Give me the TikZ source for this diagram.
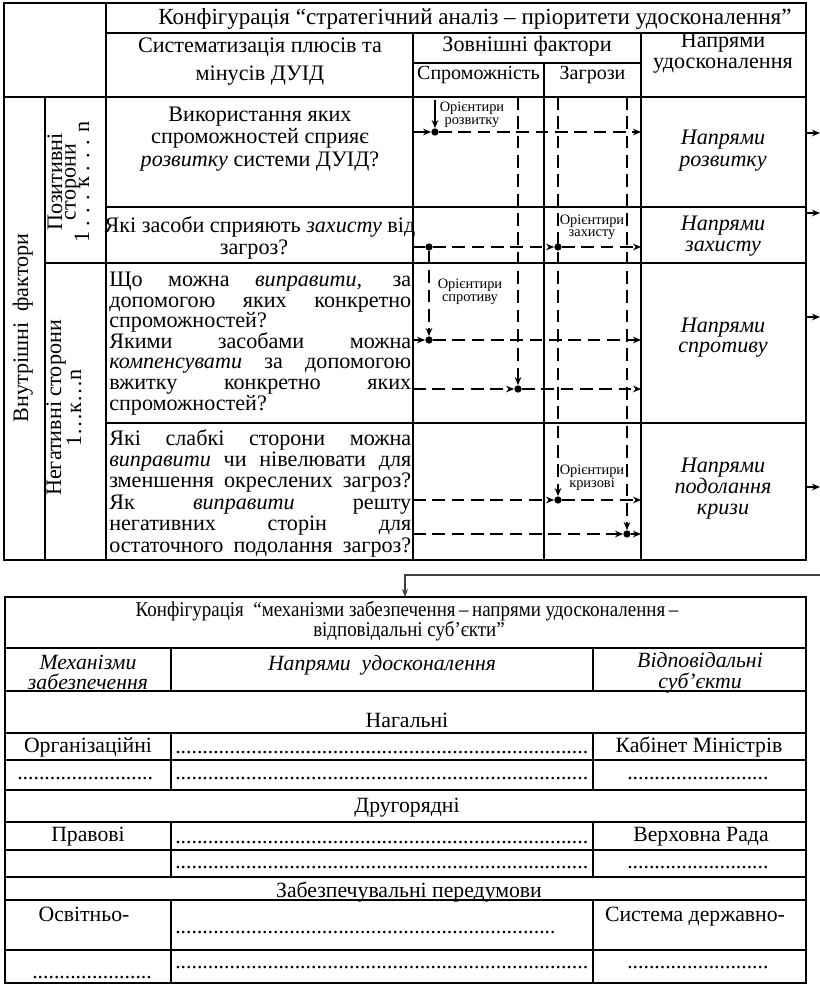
\documentclass[tikz,border=0pt]{standalone}
\usepackage{fontspec}
\setmainfont{Liberation Serif}
\newfontfamily\condfont[FakeStretch=0.9]{Liberation Serif}
\usetikzlibrary{arrows.meta}
\newcommand\dotrow[1]{\makebox[#1]{\leaders\hbox to 0.25em{\hss.\hss}\hfill}}
\newcommand\jline[1]{\makebox[226.5pt][s]{#1}}
\begin{document}
\begin{tikzpicture}[x=0.75pt,y=-0.75pt,
  grid/.style={line width=0.9pt},
  sepline/.style={line width=1.9pt},
  dline/.style={line width=1.3pt,dash pattern=on 9.5pt off 5pt},
  sline/.style={line width=1.3pt},
  tip/.style={-{Stealth[length=6pt,width=5pt]}},
  jdot/.style={circle,fill,inner sep=0pt,minimum size=5.5pt},
  txt/.style={font=\fontsize{16.6}{19}\selectfont,inner sep=0pt,anchor=base},
  htxt/.style={font=\fontsize{17.3}{19}\selectfont,inner sep=0pt,anchor=base},
  itxt/.style={font=\fontsize{16.6}{19}\selectfont\itshape,inner sep=0pt,anchor=base},
  stxt/.style={font=\fontsize{15}{17}\selectfont,inner sep=0pt,anchor=base},
  btxt/.style={font=\fontsize{16.3}{19}\selectfont,inner sep=0pt,anchor=base},
  bitxt/.style={font=\fontsize{16.3}{19}\selectfont\itshape,inner sep=0pt,anchor=base},
  lbl/.style={font=\fontsize{10.8}{12}\selectfont,inner sep=0pt,anchor=base},
  ttl/.style={font=\condfont\fontsize{15.8}{18}\selectfont,inner sep=0pt,anchor=base},
  rot/.style={font=\fontsize{16.6}{19}\selectfont,inner sep=0pt,rotate=90,anchor=base},
  conn/.style={line width=0.8pt,draw=black!75}
]
\fill[white] (0,0) rectangle (820,984);
\useasboundingbox (0,0) rectangle (820,984);

% ---------------- top table grid ----------------
\draw[grid] (4,3) rectangle (806,560);
\draw[grid] (106,33) -- (806,33);
\draw[grid] (413,63) -- (641,63);
\draw[grid] (4,97) -- (806,97);
\draw[grid] (106,207) -- (806,207);
\draw[grid] (45,263) -- (806,263);
\draw[grid] (106,423) -- (806,423);
\draw[grid] (45,97) -- (45,560);
\draw[grid] (106,3) -- (106,560);
\draw[grid] (413,33) -- (413,560);
\draw[grid] (544,63) -- (544,97);
\draw[sepline] (544,97) -- (544,560);
\draw[grid] (641,33) -- (641,560);

% header texts
\node[htxt] (t1) at (475,25) {Конфігурація “стратегічний аналіз – пріоритети удосконалення”};
\node[txt] (h1a) at (260,53) {Систематизація плюсів та};
\node[txt] (h1b) at (260,81) {мінусів ДУІД};
\node[txt] (h2) at (527,52) {Зовнішні фактори};
\node[stxt] (h2a) at (478.5,80) {Спроможність};
\node[stxt] (h2b) at (592.5,80) {Загрози};
\node[txt] (h3a) at (723,48) {Напрями};
\node[txt] (h3b) at (723,69) {удосконалення};

% rotated texts
\node[rot] (vf) at (28,328) {Внутрішні\ \ фактори};
\node[rot] (p1) at (62,182) {Позитивні};
\node[rot] (p2) at (75.5,182) {сторони};
\node[rot] (p3) at (89,182) {1 . . . к . . . n};
\node[rot] (n1) at (61,408) {Негативні сторони};
\node[rot] (n2) at (81,408) {1…к…n};

% row 1
\node[txt] (q1a) at (260,121.5) {Використання яких};
\node[txt] (q1b) at (260,144) {спроможностей сприяє};
\node[txt] (q1c) at (260,167) {\textit{розвитку} системи ДУІД?};
% row 2
\node[txt] (q2a) at (260,233) {Які засоби сприяють \textit{захисту} від};
\node[txt] (q2b) at (254,254) {загроз?};
% row 3
\node[txt,anchor=base west] (q3a) at (109,286.5) {\jline{Що можна \textit{виправити,} за}};
\node[txt,anchor=base west] (q3b) at (109,307.1) {\jline{допомогою яких конкретно}};
\node[txt,anchor=base west] (q3c) at (109,327.7) {спроможностей?};
\node[txt,anchor=base west] (q3d) at (109,348.3) {\jline{Якими засобами можна}};
\node[txt,anchor=base west] (q3e) at (109,368.9) {\jline{\textit{компенсувати} за допомогою}};
\node[txt,anchor=base west] (q3f) at (109,389.5) {\jline{вжитку конкретно яких}};
\node[txt,anchor=base west] (q3g) at (109,410.1) {спроможностей?};
% row 4
\node[txt,anchor=base west] (q4a) at (109,445) {\jline{Які слабкі сторони можна}};
\node[txt,anchor=base west] (q4b) at (109,466.4) {\jline{\textit{виправити} чи нівелювати для}};
\node[txt,anchor=base west] (q4c) at (109,487.8) {\jline{зменшення окреслених загроз?}};
\node[txt,anchor=base west] (q4d) at (109,509.2) {\jline{Як \textit{виправити} решту}};
\node[txt,anchor=base west] (q4e) at (109,530.6) {\jline{негативних сторін для}};
\node[txt,anchor=base west] (q4f) at (109,552) {\jline{остаточного подолання загроз?}};

% right column
\node[itxt] (r1a) at (723,145) {Напрями};
\node[itxt] (r1b) at (723,167) {розвитку};
\node[itxt] (r2a) at (723,230) {Напрями};
\node[itxt] (r2b) at (723,251) {захисту};
\node[itxt] (r3a) at (723,332) {Напрями};
\node[itxt] (r3b) at (723,352) {спротиву};
\node[itxt] (r4a) at (723,472) {Напрями};
\node[itxt] (r4b) at (723,493) {подолання};
\node[itxt] (r4c) at (723,514) {кризи};

% small labels
\node[lbl] (o1a) at (472,112) {Орієнтири};
\node[lbl] (o1b) at (472,125) {розвитку};
\node[lbl] (o2a) at (592,224) {Орієнтири};
\node[lbl] (o2b) at (592,237) {захисту};
\node[lbl] (o3a) at (470,288) {Орієнтири};
\node[lbl] (o3b) at (470,301) {спротиву};
\node[lbl] (o4a) at (592,474) {Орієнтири};
\node[lbl] (o4b) at (592,487) {кризові};

% dots
\node[jdot] (D1) at (435,132) {};
\node[jdot] (D2a) at (429,247) {};
\node[jdot] (D2b) at (558,247) {};
\node[jdot] (D3) at (429,340) {};
\node[jdot] (D4) at (518,389) {};
\node[jdot] (D6) at (558,500) {};
\node[jdot] (D7) at (627,534) {};

% coordinates
\coordinate (T1) at (435,100);
\coordinate (T2) at (518,97);
\coordinate (T3) at (558,97);
\coordinate (T4) at (627,97);
\coordinate (L1) at (413,132);
\coordinate (L2) at (413,247);
\coordinate (L3) at (413,340);
\coordinate (L4) at (413,389);
\coordinate (L5) at (413,500);
\coordinate (L6) at (413,534);
\coordinate (R1) at (641,132);
\coordinate (R2) at (641,247);
\coordinate (R3) at (641,340);
\coordinate (R4) at (641,389);
\coordinate (R5) at (641,500);
\coordinate (R6) at (641,534);

% verticals
\draw[sline,tip] (T1) -- (D1);
\draw[dline,tip] (T2) -- (D4);
\draw[dline,tip] (T3) -- (D6);
\draw[dline,tip] (T4) -- (D7);
\draw[dline,tip] (D2a) -- (D3);
% horizontals
\draw[sline,tip] (L1) -- (D1);
\draw[dline,tip] (D1) -- (R1);
\draw[sline] (L2) -- (D2a);
\draw[dline,tip] (D2a) -- (D2b);
\draw[dline,tip] (D2b) -- (R2);
\draw[sline,tip] (L3) -- (D3);
\draw[dline,tip] (D3) -- (R3);
\draw[dline,tip] (L4) -- (D4);
\draw[dline,tip] (D4) -- (R4);
\draw[dline,tip] (L5) -- (D6);
\draw[dline,tip] (D6) -- (R5);
\draw[dline,tip] (L6) -- (D7);
\draw[sline,tip] (D7) -- (R6);

% outgoing arrows
\coordinate (E1a) at (806,133); \coordinate (E1b) at (820,133);
\coordinate (E2a) at (806,213); \coordinate (E2b) at (820,213);
\coordinate (E3a) at (806,317); \coordinate (E3b) at (820,317);
\coordinate (E4a) at (806,487); \coordinate (E4b) at (820,487);
\draw[sline,tip] (E1a) -- (E1b);
\draw[sline,tip] (E2a) -- (E2b);
\draw[sline,tip] (E3a) -- (E3b);
\draw[sline,tip] (E4a) -- (E4b);

% ---------------- connector ----------------
\coordinate (cR) at (820,575);
\coordinate (cT) at (405,597);
\draw[conn,-{Stealth[length=6pt,width=4.5pt]}] (cR) -- (405,575) -- (cT);

% ---------------- bottom table grid ----------------
\draw[grid] (5,597) rectangle (806,983);
\foreach \yy in {648,691,733,760,790,822,850,877,900,950}
  \draw[grid] (5,\yy) -- (806,\yy);
\foreach \xx in {171,593} {
  \draw[grid] (\xx,648) -- (\xx,691);
  \draw[grid] (\xx,733) -- (\xx,790);
  \draw[grid] (\xx,822) -- (\xx,877);
  \draw[grid] (\xx,900) -- (\xx,983);
}

% bottom texts
\node[ttl] (b1a) at (407,616) {Конфігурація\ \ “механізми забезпечення\,–\,напрями удосконалення\,–};
\node[ttl] (b1b) at (409,636) {відповідальні суб’єкти”};
\node[bitxt] (b2a) at (88,669) {Механізми};
\node[bitxt] (b2b) at (88,689) {забезпечення};
\node[bitxt] (b2c) at (382,670) {Напрями\ \ удосконалення};
\node[bitxt] (b2d) at (700,667) {Відповідальні};
\node[bitxt] (b2e) at (700,688) {суб’єкти};
\node[btxt] (b3) at (407,727) {Нагальні};
\node[btxt] (b4a) at (88,752) {Організаційні};
\node[btxt,anchor=base west] (b4b) at (175,753) {\dotrow{309.75pt}};
\node[btxt] (b4c) at (699,752) {Кабінет Міністрів};
\node[btxt,anchor=base west] (b5a) at (17,779) {\dotrow{105pt}};
\node[btxt,anchor=base west] (b5b) at (175,779) {\dotrow{309.75pt}};
\node[btxt,anchor=base west] (b5c) at (627,779) {\dotrow{108pt}};
\node[btxt] (b6) at (407,812) {Другорядні};
\node[btxt] (b7a) at (88,841) {Правові};
\node[btxt,anchor=base west] (b7b) at (175,843) {\dotrow{309.75pt}};
\node[btxt] (b7c) at (701,841) {Верховна Рада};
\node[btxt,anchor=base west] (b8b) at (175,868) {\dotrow{309.75pt}};
\node[btxt,anchor=base west] (b8c) at (627,868) {\dotrow{108pt}};
\node[btxt] (b9) at (409,897) {Забезпечувальні передумови};
\node[btxt] (b10a) at (84,921) {Освітньо-};
\node[btxt,anchor=base west] (b10b) at (175,933) {\dotrow{287pt}};
\node[btxt] (b10c) at (695,921) {Система державно-};
\node[btxt,anchor=base west] (b11a) at (32,978) {\dotrow{91pt}};
\node[btxt,anchor=base west] (b11b) at (175,968) {\dotrow{309.75pt}};
\node[btxt,anchor=base west] (b11c) at (627,968) {\dotrow{108pt}};
\end{tikzpicture}
\end{document}
